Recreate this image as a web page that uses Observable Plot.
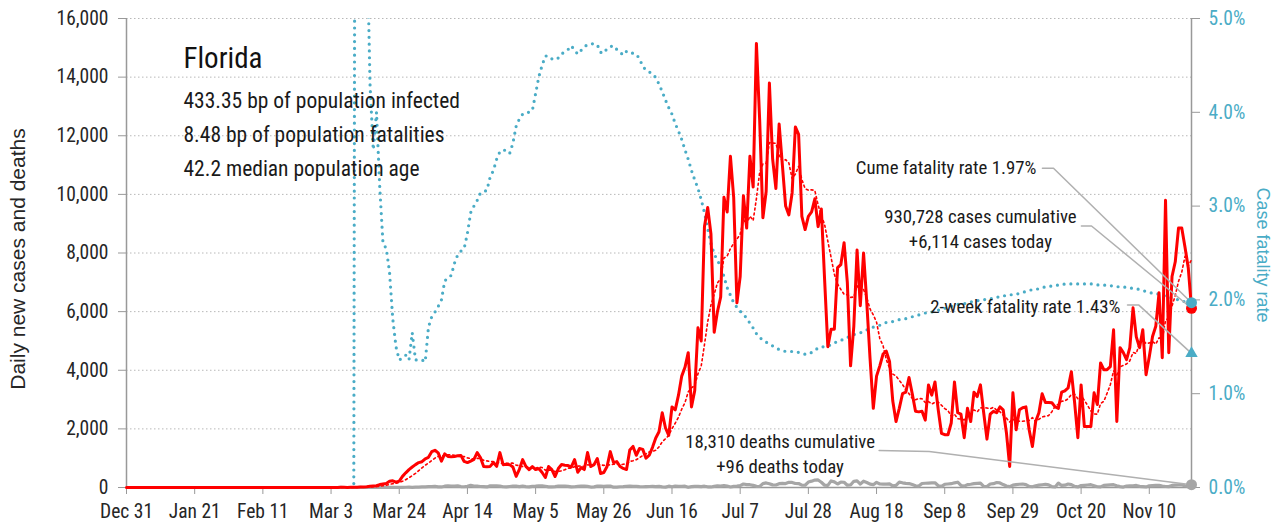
<!DOCTYPE html>
<html>
<head>
<meta charset="utf-8">
<script src="https://cdn.jsdelivr.net/npm/d3@7"></script>
<script src="https://cdn.jsdelivr.net/npm/@observablehq/plot@0.6"></script>
<style>
  html, body { margin: 0; padding: 0; background: #fff; }
  #chart { width: 1278px; height: 529px; }
</style>
</head>
<body>
<div id="chart"></div>
<script>
// ---------------- DATA ----------------
const startDate = "2019-12-31";   // first date of the dataset (no cases)
const seriesStart = "2020-03-01"; // first day of the daily arrays below

// Daily new cases, by month
const casesMar = [0,2,1,3,2,5,6,4,8,5, 10,15,20,25,40,50,60,100,120,140, 210,230,180,220,380,500,610,700,780,850, 880];
const casesApr = [980,1030,1220,1270,1180,900,1150,1060,1050,1060, 1080,1090,890,850,900,960,1190,1020,720,710, 720,850,720,1190,780,790,780,700,380,620];
const casesMay = [950,720,610,715,612,646,510,340,715,612, 374,646,783,760,749,700,950,520,680,612, 1191,715,780,990,480,510,715,1225,850,885, 715];
const casesJun = [650,612,1280,1400,1100,1330,1300,1000,1100,1370, 1690,1900,2550,2030,1780,2750,2650,3150,3800,4100, 4600,2750,3300,5450,5000,8900,9550,8650,5300,6000];
const casesJul = [6500,9900,9400,11300,9900,6300,7200,9950,8850,11300, 10250,15150,12550,9200,10100,13800,11200,10200,12400,11000, 9600,9300,10050,12300,12050,9250,8800,9250,9400,9850, 8900];
const casesAug = [9500,7100,4800,5400,5400,7500,7600,8350,7000,4150, 5500,8100,6200,8000,6300,4400,2700,3800,4150,4550, 4650,4300,2950,2250,2700,3200,3250,3750,3200,2600, 2580];
const casesSep = [2600,2300,3500,3150,3600,2650,1850,1800,1800,2200, 3600,2550,2500,1700,2700,2250,3250,3100,3500,2550, 1650,2500,2600,2550,2750,2650,1870,720,3230,1970];
const casesOct = [2650,2720,2750,1970,1400,2250,2550,3200,2900,2900, 2890,2750,2700,3250,3300,3400,3950,2900,1700,3500, 2080,2080,2080,3230,2830,4250,4020,4020,4120,5380, 2250];
const casesNov = [4770,4600,4360,4770,6130,5140,4770,5380,3850,4460, 5150,5500,6640,4430,9800,4600,7200,7700,8850,8850, 8200,7500,6114];

// Daily new deaths, by month
const deathsMar = [0,0,0,0,0,2,0,0,0,0, 0,1,0,2,1,0,1,2,1,3, 4,2,5,3,6,8,10,7,12,15, 20];
const deathsApr = [24,30,27,40,22,18,45,60,52,50, 55,33,25,40,72,48,46,35,30,20, 55,58,55,47,26,24,35,48,45,30];
const deathsMay = [44,30,20,37,45,56,60,43,22,20, 30,48,46,52,40,20,25,41,52,46, 36,16,20,45,50,42,47,48,10,10, 25];
const deathsJun = [30,43,52,40,40,30,25,30,35,40, 28,40,20,12,45,26,46,43,39,44, 7,30,40,39,33,44,24,18,38,58];
const deathsJul = [45,67,49,18,38,48,63,120,100,95, 75,40,35,132,156,128,90,85,130,140, 134,175,173,136,135,80,77,186,216,253, 257];
const deathsAug = [180,76,73,225,191,120,182,179,77,87, 212,225,118,214,171,114,96,174,119,118, 116,123,54,72,185,160,139,135,100,60, 48];
const deathsSep = [137,145,150,155,160,60,40,110,120,130, 160,180,70,45,100,110,130,140,150,40, 35,120,130,170,155,100,50,30,80,100];
const deathsOct = [110,120,100,40,25,60,80,95,110,90, 30,20,150,70,80,120,100,40,20,65, 75,85,95,60,25,20,70,80,90,95, 60];
const deathsNov = [30,15,50,55,60,70,40,30,20,60, 65,70,75,50,35,30,70,80,85,90, 60,40,96];

// Cumulative case fatality rate (%), by month
const cfrMar = [0,0,0,0,0,0,0,0,0,0, 20,12,8,6,4.3,3.6,4.0,3.2,2.6,2.55, 2.3,1.8,1.5,1.36,1.38,1.41,1.36,1.65,1.36,1.36, 1.36];
const cfrApr = [1.34,1.71,1.82,1.87,1.93,2.0,2.2,2.24,2.26,2.39, 2.48,2.52,2.55,2.71,2.93,3.0,3.06,3.14,3.15,3.17, 3.31,3.38,3.5,3.58,3.6,3.59,3.56,3.67,3.85,3.93];
const cfrMay = [3.98,4.0,4.0,4.02,4.2,4.38,4.5,4.6,4.6,4.57, 4.56,4.58,4.62,4.65,4.67,4.71,4.66,4.62,4.66,4.70, 4.72,4.73,4.73,4.72,4.64,4.63,4.68,4.70,4.71,4.67, 4.64];
const cfrJun = [4.61,4.65,4.63,4.63,4.62,4.57,4.49,4.45,4.43,4.41, 4.37,4.3,4.22,4.13,4.05,3.98,3.88,3.8,3.71,3.6, 3.5,3.38,3.28,3.19,3.07,2.93,2.76,2.6,2.49,2.42];
const cfrJul = [2.36,2.25,2.13,2.05,1.97,1.92,1.88,1.84,1.81,1.75, 1.70,1.64,1.60,1.57,1.55,1.53,1.51,1.49,1.47,1.46, 1.45,1.45,1.45,1.45,1.44,1.43,1.42,1.42,1.44,1.46, 1.49];
const cfrAug = [1.50,1.50,1.51,1.52,1.54,1.56,1.57,1.58,1.60,1.61, 1.63,1.64,1.65,1.66,1.68,1.69,1.71,1.72,1.73,1.74, 1.76,1.76,1.77,1.78,1.79,1.80,1.80,1.81,1.82,1.83, 1.84];
const cfrSep = [1.85,1.86,1.87,1.87,1.88,1.89,1.90,1.91,1.92,1.93, 1.94,1.95,1.96,1.96,1.97,1.98,1.98,1.99,2.0,2.0, 2.01,2.01,2.02,2.03,2.03,2.04,2.05,2.05,2.06,2.06];
const cfrOct = [2.07,2.08,2.09,2.10,2.11,2.11,2.12,2.13,2.14,2.14, 2.15,2.15,2.16,2.16,2.17,2.17,2.17,2.17,2.17,2.17, 2.17,2.17,2.17,2.17,2.16,2.16,2.16,2.15,2.15,2.15, 2.14];
const cfrNov = [2.14,2.14,2.13,2.13,2.12,2.12,2.11,2.10,2.09,2.08, 2.07,2.07,2.06,2.05,2.04,2.03,2.02,2.01,2.0,1.99, 1.98,1.97,1.97];

const twoWeekRate = 1.43; // %

// Axis ticks
const xTickDates = ["2019-12-31","2020-01-21","2020-02-11","2020-03-03","2020-03-24","2020-04-14","2020-05-05","2020-05-26","2020-06-16","2020-07-07","2020-07-28","2020-08-18","2020-09-08","2020-09-29","2020-10-20","2020-11-10"];
const leftTicks = [0,2000,4000,6000,8000,10000,12000,14000,16000];
const rightTicksPct = [0,1,2,3,4,5];

// Text
const stateName = "Florida";
const infoLines = ["433.35 bp of population infected","8.48 bp of population fatalities","42.2 median population age"];
const yTitle = "Daily new cases and deaths";
const y2Title = "Case fatality rate";

// Annotation placement (in data units: date, daily cases)
const notesEnd = [
  {text: "Cume fatality rate 1.97%", date: "2020-10-06T05:00Z", value: 10890},
  {text: "2-week fatality rate 1.43%", date: "2020-11-01T02:00Z", value: 6160}
];
const notesMid = [
  {text: "930,728 cases cumulative\n+6,114 cases today", date: "2020-09-19T00:00Z", value: 8870},
  {text: "18,310 deaths cumulative\n+96 deaths today", date: "2020-07-19T07:00Z", value: 1210}
];
const leaderStarts = [
  {id: "cfr",    a: ["2020-10-08T02:00Z", 10890], b: ["2020-10-11T12:00Z", 10890]},
  {id: "cases",  a: ["2020-10-20T02:00Z", 8920],  b: ["2020-10-23T05:00Z", 8920]},
  {id: "twoWk",  a: ["2020-11-03T07:00Z", 6230],  b: ["2020-11-06T17:00Z", 6230]},
  {id: "deaths", a: ["2020-08-18T19:00Z", 1260],  b: ["2020-09-03T05:00Z", 1226]}
];

// ---------------- BUILD ----------------
const parse = d3.utcParse("%Y-%m-%d");
const pctScale = 16000 / 5; // 5% at top of the left scale
const teal = "#4aacc6";
const red = "#ff0000";
const gray = "#a6a6a6";
const fontNarrow = '"Liberation Sans Narrow", "Arial Narrow", "Roboto Condensed", "DejaVu Sans Condensed", sans-serif';
const fontReg = '"Liberation Sans", Arial, sans-serif';

const cases = [].concat(casesMar, casesApr, casesMay, casesJun, casesJul, casesAug, casesSep, casesOct, casesNov);
const deaths = [].concat(deathsMar, deathsApr, deathsMay, deathsJun, deathsJul, deathsAug, deathsSep, deathsOct, deathsNov);
const cfr = [].concat(cfrMar, cfrApr, cfrMay, cfrJun, cfrJul, cfrAug, cfrSep, cfrOct, cfrNov);

const s0 = parse(seriesStart);
const rows = [{date: parse(startDate), cases: 0, deaths: 0, cfr: 0}].concat(
  cases.map((c, i) => ({date: d3.utcDay.offset(s0, i), cases: c, deaths: deaths[i], cfr: cfr[i]}))
);
const last = rows[rows.length - 1];
const endValues = {cfr: last.cfr * pctScale, cases: last.cases, twoWk: twoWeekRate * pctScale, deaths: last.deaths};

const leaderPts = leaderStarts.flatMap(l => [
  {id: l.id, date: new Date(l.a[0]), v: l.a[1]},
  {id: l.id, date: new Date(l.b[0]), v: l.b[1]},
  {id: l.id, date: last.date, v: endValues[l.id]}
]);

const tickFont = 19.5;

const chart = Plot.plot({
  width: 1278,
  height: 529,
  marginTop: 18,
  marginBottom: 42,
  marginLeft: 126,
  marginRight: 87,
  style: {fontFamily: fontNarrow, fontSize: tickFont + "px", color: "#262626", background: "#fff", overflow: "visible"},
  x: {type: "utc", domain: [parse(startDate), last.date]},
  y: {domain: [0, 16000]},
  marks: [
    Plot.gridY(leftTicks.filter(v => v > 0), {stroke: "#b8b8b8", strokeOpacity: 1, strokeDasharray: "1.5,2.5", strokeWidth: 1}),
    Plot.axisY(leftTicks, {anchor: "left", tickSize: 8, tickPadding: 10, tickFormat: d3.format(","), stroke: "#999", fill: "#262626", label: null, fontSize: tickFont, fontFamily: fontNarrow}),
    Plot.axisY(rightTicksPct.map(p => p * pctScale), {anchor: "right", tickSize: 8, tickPadding: 9, tickFormat: v => (v / pctScale).toFixed(1) + "%", stroke: "#999", fill: teal, label: null, fontSize: tickFont, fontFamily: fontNarrow}),
    Plot.axisX(xTickDates.map(parse), {anchor: "bottom", tickSize: 7, tickPadding: 10, tickFormat: d3.utcFormat("%b %-d"), stroke: "#999", fill: "#262626", label: null, fontSize: tickFont, fontFamily: fontNarrow}),
    Plot.ruleX([parse(startDate)], {stroke: "#999", strokeWidth: 1.5}),
    Plot.ruleX([last.date], {stroke: "#999", strokeWidth: 1.5}),
    Plot.ruleY([0], {stroke: "#999", strokeWidth: 1.5}),

    // case fatality rate (right axis)
    Plot.line(rows, {x: "date", y: d => d.cfr * pctScale, stroke: teal, strokeWidth: 3.2, strokeDasharray: "0,6.8", strokeLinecap: "round", clip: true}),
    // deaths
    Plot.line(rows.slice(1), {x: "date", y: "deaths", stroke: gray, strokeWidth: 3.2}),
    // 7-day average of cases
    Plot.lineY(rows, Plot.windowY({k: 7, anchor: "end", reduce: "mean"}, {x: "date", y: "cases", stroke: red, strokeWidth: 1.6, strokeDasharray: "2,3"})),
    // daily cases
    Plot.line(rows, {x: "date", y: "cases", stroke: red, strokeWidth: 3, strokeLinejoin: "round"}),

    // leader lines
    Plot.line(leaderPts, {x: "date", y: "v", z: "id", stroke: "#b0b0b0", strokeWidth: 1.5}),

    // end markers
    Plot.dot([last], {x: "date", y: "deaths", r: 5.5, fill: gray}),
    Plot.dot([last], {x: "date", y: "cases", r: 5.5, fill: red}),
    Plot.dot([last], {x: "date", y: d => d.cfr * pctScale, r: 5.5, fill: teal}),
    Plot.dot([{date: last.date, v: twoWeekRate * pctScale}], {x: "date", y: "v", symbol: "triangle", r: 4.6, fill: teal}),

    // annotations
    Plot.text(notesEnd, {x: d => new Date(d.date), y: "value", text: "text", textAnchor: "end", lineAnchor: "middle", fontFamily: fontNarrow, fontSize: 18.8, fill: "#1a1a1a"}),
    Plot.text(notesMid, {x: d => new Date(d.date), y: "value", text: "text", textAnchor: "middle", lineAnchor: "middle", lineHeight: 25 / 18.8, fontFamily: fontNarrow, fontSize: 18.8, fill: "#1a1a1a"}),

    // title block
    Plot.text([stateName], {frameAnchor: "top-left", textAnchor: "start", lineAnchor: "bottom", dx: 57, dy: 49, fontFamily: fontNarrow, fontSize: 29, fill: "#111"}),
    Plot.text([infoLines.join("\n")], {frameAnchor: "top-left", textAnchor: "start", lineAnchor: "top", dx: 57, dy: 65, lineHeight: 34 / 21.5, fontFamily: fontNarrow, fontSize: 21.5, fill: "#1a1a1a"}),

    // axis titles
    Plot.text([yTitle], {frameAnchor: "left", textAnchor: "middle", lineAnchor: "middle", rotate: -90, dx: -108, dy: 6, fontFamily: fontReg, fontSize: 21, fill: "#262626"}),
    Plot.text([y2Title], {frameAnchor: "right", textAnchor: "middle", lineAnchor: "middle", rotate: 90, dx: 71, dy: 2, fontFamily: fontReg, fontSize: 18, fill: teal})
  ]
});

document.getElementById("chart").appendChild(chart);
</script>
</body>
</html>
